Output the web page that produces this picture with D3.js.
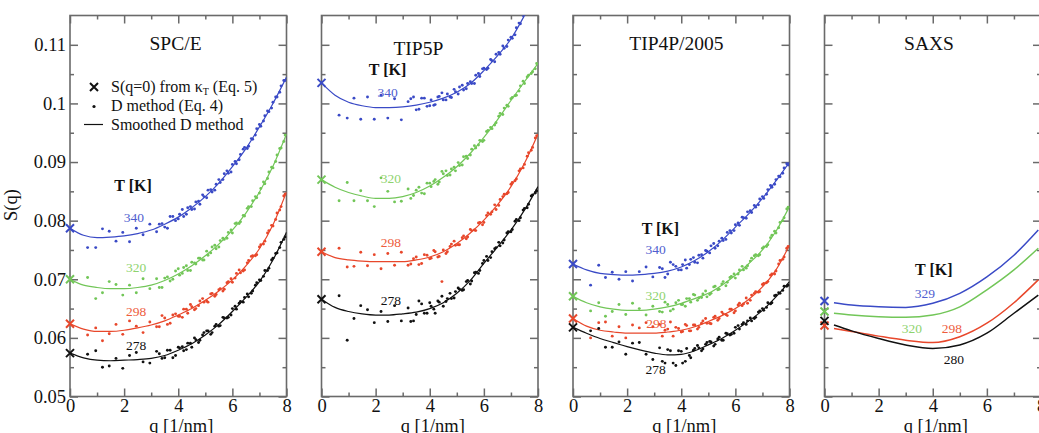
<!DOCTYPE html>
<html>
<head>
<meta charset="utf-8">
<script src="https://cdn.jsdelivr.net/npm/d3@7"></script>
<style>
  body { margin: 0; background: #fff; }
  svg { display: block; }
</style>
</head>
<body>
<svg id="chart"></svg>
<script>
// ---- data (S(q)) ----
const qLine = [0, 0.5, 1, 1.5, 2, 2.5, 3, 3.5, 4, 4.5, 5, 5.5, 6, 6.5, 7, 7.5, 8];
const qDots = [0.65, 0.95, 1.2, 1.45, 1.7, 1.95, 2.2, 2.45, 2.7, 2.95, 3.2, 3.4, 3.6, 3.8, 4.0,
  4.15, 4.3, 4.45, 4.6, 4.75, 4.9, 5.05, 5.2, 5.35, 5.5, 5.65, 5.8, 5.95, 6.1, 6.25, 6.4,
  6.55, 6.7, 6.85, 7.0, 7.15, 7.3, 7.45, 7.6, 7.75, 7.9];
const qDots2 = [3.3, 3.5, 3.7, 3.9, 4.05, 4.2, 4.35, 4.5, 4.65, 4.8, 4.95, 5.1, 5.25, 5.4, 5.55,
  5.7, 5.85, 6.0, 6.15, 6.3, 6.45, 6.6, 6.75, 6.9, 7.05, 7.2, 7.35, 7.5, 7.65, 7.8, 7.95];
const temps = ['340', '320', '298', '278'];
const saxsTemps = ['329', '320', '298', '280'];

// SPC/E
const spceCross = [0.0787, 0.0700, 0.0624, 0.0574];
const spceCurve340 = [0.0787,0.0775,0.0771,0.0772,0.0774,0.0778,0.0784,0.0794,0.0806,0.0822,0.0841,0.0864,0.0892,0.0923,0.0960,0.1000,0.1045];
const spceCurve320 = [0.0700,0.0690,0.0686,0.0684,0.0684,0.0686,0.0690,0.0698,0.0709,0.0723,0.0740,0.0760,0.0784,0.0813,0.0849,0.0893,0.0948];
const spceCurve298 = [0.0624,0.0615,0.0611,0.0611,0.0613,0.0617,0.0622,0.0629,0.0639,0.0650,0.0664,0.0680,0.0699,0.0723,0.0752,0.0793,0.0849];
const spceCurve278 = [0.0574,0.0566,0.0562,0.0561,0.0562,0.0563,0.0565,0.0570,0.0579,0.0590,0.0605,0.0623,0.0645,0.0669,0.0696,0.0733,0.0780];
const spceDots340 = [0.0754,0.0754,0.0786,0.0782,0.0765,0.0780,0.0764,0.0787,0.0776,0.0794,0.0781,0.0795,0.0787,0.0807,0.0803,0.0819,0.0811,0.0824,0.0820,0.0833,0.0844,0.0839,0.0853,0.0852,0.0870,0.0870,0.0885,0.0883,0.0901,0.0904,0.0922,0.0923,0.0940,0.0946,0.0964,0.0970,0.0987,0.0992,0.1011,0.1019,0.1039];
const spceDots320 = [0.0703,0.0667,0.0677,0.0696,0.0691,0.0673,0.0690,0.0677,0.0701,0.0684,0.0701,0.0686,0.0704,0.0700,0.0718,0.0710,0.0723,0.0715,0.0728,0.0736,0.0733,0.0748,0.0745,0.0758,0.0755,0.0770,0.0770,0.0784,0.0795,0.0795,0.0809,0.0821,0.0824,0.0841,0.0847,0.0866,0.0872,0.0891,0.0901,0.0923,0.0935];
const spceDots298 = [0.0605,0.0617,0.0595,0.0607,0.0623,0.0606,0.0629,0.0620,0.0609,0.0627,0.0619,0.0638,0.0623,0.0639,0.0637,0.0635,0.0649,0.0657,0.0648,0.0655,0.0667,0.0663,0.0675,0.0671,0.0682,0.0680,0.0694,0.0701,0.0702,0.0716,0.0714,0.0728,0.0739,0.0740,0.0755,0.0760,0.0779,0.0792,0.0802,0.0818,0.0842];
const spceDots278 = [0.0572,0.0578,0.0550,0.0552,0.0565,0.0548,0.0570,0.0575,0.0559,0.0557,0.0577,0.0565,0.0579,0.0566,0.0584,0.0585,0.0580,0.0591,0.0600,0.0592,0.0605,0.0612,0.0606,0.0620,0.0620,0.0635,0.0634,0.0639,0.0654,0.0659,0.0661,0.0675,0.0676,0.0690,0.0699,0.0705,0.0715,0.0733,0.0744,0.0754,0.0768];
const spceMore340 = [0.0794,0.0789,0.0807,0.0800,0.0811,0.0807,0.0822,0.0819,0.0832,0.0828,0.0841,0.0852,0.0849,0.0862,0.0865,0.0880,0.0881,0.0896,0.0897,0.0913,0.0925,0.0927,0.0939,0.0957,0.0961,0.0979,0.0986,0.1002,0.1011,0.1030,0.1039];
const spceMore320 = [0.0686,0.0702,0.0697,0.0714,0.0707,0.0720,0.0715,0.0729,0.0726,0.0736,0.0733,0.0741,0.0755,0.0752,0.0766,0.0768,0.0780,0.0779,0.0796,0.0798,0.0808,0.0824,0.0834,0.0839,0.0855,0.0863,0.0883,0.0890,0.0912,0.0924,0.0946];
const spceMore298 = [0.0619,0.0634,0.0625,0.0641,0.0637,0.0649,0.0642,0.0653,0.0650,0.0663,0.0661,0.0661,0.0676,0.0674,0.0684,0.0683,0.0696,0.0695,0.0710,0.0711,0.0716,0.0732,0.0740,0.0742,0.0759,0.0765,0.0783,0.0791,0.0813,0.0824,0.0845];
const spceMore278 = [0.0573,0.0566,0.0579,0.0570,0.0583,0.0578,0.0591,0.0584,0.0597,0.0596,0.0609,0.0612,0.0609,0.0623,0.0621,0.0634,0.0635,0.0650,0.0649,0.0662,0.0669,0.0670,0.0680,0.0694,0.0698,0.0715,0.0719,0.0736,0.0745,0.0763,0.0772];

// TIP5P
const tip5pCross = [0.1035, 0.0870, 0.0747, 0.0666];
const tip5pCurve340 = [0.1035,0.1014,0.1002,0.0996,0.0993,0.0993,0.0994,0.0997,0.1002,0.1009,0.1019,0.1034,0.1056,0.1081,0.1110,0.1150,0.1195];
const tip5pCurve320 = [0.0870,0.0857,0.0848,0.0842,0.0838,0.0838,0.0841,0.0848,0.0859,0.0874,0.0892,0.0915,0.0942,0.0972,0.1005,0.1037,0.1068];
const tip5pCurve298 = [0.0747,0.0737,0.0733,0.0731,0.0730,0.0730,0.0730,0.0733,0.0738,0.0747,0.0761,0.0779,0.0801,0.0827,0.0858,0.0898,0.0948];
const tip5pCurve278 = [0.0666,0.0652,0.0645,0.0641,0.0639,0.0639,0.0641,0.0644,0.0650,0.0660,0.0676,0.0698,0.0727,0.0755,0.0784,0.0818,0.0858];
const tip5pDots340 = [0.0980,0.0975,0.1009,0.0973,0.1011,0.0973,0.1014,0.0975,0.1008,0.0972,0.1003,0.1011,0.0990,0.1009,0.0996,0.0997,0.1011,0.1018,0.1006,0.1011,0.1024,0.1016,0.1031,0.1025,0.1037,0.1034,0.1051,0.1059,0.1058,0.1075,0.1071,0.1087,0.1098,0.1097,0.1113,0.1117,0.1137,0.1150,0.1156,0.1169,0.1191];
const tip5pDots320 = [0.0834,0.0865,0.0834,0.0851,0.0834,0.0824,0.0873,0.0850,0.0832,0.0833,0.0854,0.0843,0.0857,0.0846,0.0864,0.0867,0.0862,0.0884,0.0885,0.0878,0.0891,0.0899,0.0895,0.0910,0.0912,0.0928,0.0929,0.0935,0.0952,0.0959,0.0963,0.0978,0.0981,0.0997,0.1008,0.1013,0.1021,0.1038,0.1045,0.1051,0.1059];
const tip5pDots298 = [0.0753,0.0721,0.0722,0.0746,0.0723,0.0742,0.0718,0.0744,0.0724,0.0746,0.0724,0.0735,0.0725,0.0742,0.0735,0.0749,0.0738,0.0696,0.0744,0.0756,0.0765,0.0759,0.0771,0.0769,0.0785,0.0784,0.0796,0.0793,0.0809,0.0811,0.0827,0.0826,0.0841,0.0846,0.0862,0.0868,0.0885,0.0890,0.0910,0.0920,0.0941];
const tip5pDots278 = [0.0672,0.0596,0.0633,0.0655,0.0648,0.0626,0.0645,0.0628,0.0655,0.0629,0.0651,0.0629,0.0663,0.0642,0.0660,0.0649,0.0663,0.0671,0.0662,0.0676,0.0668,0.0685,0.0681,0.0696,0.0692,0.0711,0.0710,0.0727,0.0739,0.0737,0.0752,0.0763,0.0762,0.0779,0.0781,0.0799,0.0800,0.0818,0.0822,0.0842,0.0847];
const tip5pMore340 = [0.1008,0.0989,0.1009,0.0995,0.1006,0.0998,0.1012,0.1006,0.1016,0.1010,0.1020,0.1028,0.1023,0.1034,0.1034,0.1048,0.1046,0.1060,0.1060,0.1073,0.1084,0.1084,0.1094,0.1108,0.1111,0.1129,0.1136,0.1152,0.1161,0.1180,0.1189];
const tip5pMore320 = [0.0838,0.0852,0.0847,0.0864,0.0858,0.0870,0.0866,0.0880,0.0877,0.0888,0.0885,0.0894,0.0909,0.0906,0.0922,0.0924,0.0937,0.0937,0.0954,0.0957,0.0967,0.0983,0.0992,0.0995,0.1010,0.1014,0.1030,0.1034,0.1048,0.1054,0.1068];
const tip5pMore298 = [0.0726,0.0738,0.0727,0.0741,0.0736,0.0747,0.0739,0.0750,0.0747,0.0760,0.0758,0.0759,0.0774,0.0772,0.0783,0.0783,0.0797,0.0797,0.0813,0.0815,0.0819,0.0836,0.0845,0.0848,0.0865,0.0871,0.0888,0.0896,0.0916,0.0925,0.0945];
const tip5pMore278 = [0.0628,0.0640,0.0658,0.0642,0.0654,0.0642,0.0661,0.0654,0.0667,0.0667,0.0679,0.0683,0.0682,0.0698,0.0697,0.0712,0.0715,0.0732,0.0732,0.0747,0.0754,0.0757,0.0767,0.0781,0.0785,0.0802,0.0805,0.0821,0.0828,0.0844,0.0851];

// TIP4P/2005
const tip4pCross = [0.0726, 0.0671, 0.0633, 0.0618];
const tip4pCurve340 = [0.0726,0.0716,0.0710,0.0708,0.0707,0.0708,0.0710,0.0714,0.0721,0.0732,0.0747,0.0766,0.0789,0.0812,0.0838,0.0868,0.0900];
const tip4pCurve320 = [0.0671,0.0660,0.0653,0.0649,0.0647,0.0647,0.0649,0.0653,0.0659,0.0667,0.0676,0.0690,0.0707,0.0727,0.0750,0.0782,0.0824];
const tip4pCurve298 = [0.0633,0.0620,0.0613,0.0610,0.0608,0.0608,0.0608,0.0610,0.0613,0.0619,0.0628,0.0638,0.0650,0.0666,0.0687,0.0716,0.0758];
const tip4pCurve278 = [0.0618,0.0608,0.0599,0.0592,0.0585,0.0579,0.0574,0.0571,0.0572,0.0578,0.0588,0.0599,0.0613,0.0629,0.0647,0.0670,0.0696];
const tip4pDots340 = [0.0690,0.0724,0.0703,0.0712,0.0700,0.0713,0.0697,0.0713,0.0721,0.0704,0.0720,0.0703,0.0729,0.0722,0.0716,0.0733,0.0725,0.0737,0.0728,0.0742,0.0749,0.0745,0.0761,0.0757,0.0770,0.0768,0.0783,0.0783,0.0796,0.0806,0.0804,0.0817,0.0826,0.0827,0.0841,0.0845,0.0860,0.0862,0.0876,0.0881,0.0897];
const tip4pDots320 = [0.0646,0.0660,0.0637,0.0645,0.0657,0.0640,0.0659,0.0650,0.0639,0.0654,0.0645,0.0661,0.0646,0.0660,0.0657,0.0654,0.0667,0.0674,0.0664,0.0669,0.0680,0.0674,0.0687,0.0682,0.0692,0.0689,0.0703,0.0709,0.0709,0.0722,0.0719,0.0731,0.0740,0.0740,0.0753,0.0756,0.0771,0.0782,0.0788,0.0800,0.0820];
const tip4pDots298 = [0.0600,0.0626,0.0627,0.0603,0.0619,0.0600,0.0622,0.0617,0.0626,0.0619,0.0623,0.0613,0.0627,0.0618,0.0610,0.0623,0.0612,0.0622,0.0615,0.0625,0.0633,0.0625,0.0635,0.0630,0.0644,0.0640,0.0649,0.0643,0.0656,0.0655,0.0668,0.0664,0.0676,0.0678,0.0691,0.0694,0.0707,0.0709,0.0726,0.0734,0.0753];
const tip4pDots278 = [0.0612,0.0616,0.0584,0.0584,0.0593,0.0572,0.0591,0.0592,0.0572,0.0563,0.0583,0.0557,0.0578,0.0553,0.0577,0.0560,0.0570,0.0579,0.0587,0.0578,0.0589,0.0594,0.0586,0.0598,0.0596,0.0608,0.0605,0.0608,0.0621,0.0623,0.0623,0.0634,0.0633,0.0644,0.0650,0.0652,0.0658,0.0672,0.0677,0.0681,0.0688];
const tip4pMore340 = [0.0718,0.0709,0.0725,0.0716,0.0725,0.0719,0.0734,0.0729,0.0741,0.0736,0.0748,0.0757,0.0753,0.0765,0.0766,0.0780,0.0779,0.0793,0.0792,0.0805,0.0815,0.0814,0.0823,0.0837,0.0838,0.0853,0.0857,0.0870,0.0875,0.0890,0.0895];
const tip4pMore320 = [0.0644,0.0657,0.0649,0.0664,0.0657,0.0667,0.0661,0.0673,0.0668,0.0675,0.0670,0.0676,0.0688,0.0683,0.0696,0.0695,0.0705,0.0702,0.0716,0.0716,0.0723,0.0736,0.0742,0.0742,0.0755,0.0759,0.0775,0.0779,0.0797,0.0805,0.0823];
const tip4pMore298 = [0.0603,0.0615,0.0603,0.0616,0.0611,0.0621,0.0612,0.0622,0.0618,0.0629,0.0625,0.0624,0.0637,0.0633,0.0641,0.0638,0.0649,0.0646,0.0659,0.0658,0.0659,0.0673,0.0679,0.0679,0.0693,0.0696,0.0709,0.0714,0.0732,0.0738,0.0756];
const tip4pMore278 = [0.0560,0.0580,0.0557,0.0578,0.0557,0.0582,0.0566,0.0582,0.0583,0.0581,0.0592,0.0593,0.0589,0.0601,0.0596,0.0607,0.0606,0.0618,0.0615,0.0626,0.0629,0.0629,0.0635,0.0646,0.0647,0.0660,0.0660,0.0673,0.0676,0.0688,0.0690];

// SAXS (experiment, curves only)
const saxsQ = [0.35, 1, 2, 3, 4, 5, 6, 7, 7.9];
const saxsCross = [0.0663, 0.0645, 0.0621, 0.0629];
const saxsCurve329 = [0.0660,0.0656,0.0653,0.0652,0.0659,0.0676,0.0704,0.0741,0.0784];
const saxsCurve320 = [0.0642,0.0639,0.0636,0.0635,0.0639,0.0653,0.0682,0.0716,0.0753];
const saxsCurve298 = [0.0616,0.0611,0.0603,0.0596,0.0592,0.0602,0.0625,0.0660,0.0699];
const saxsCurve280 = [0.0622,0.0612,0.0599,0.0588,0.0582,0.0588,0.0608,0.0642,0.0673];

// axis ticks
const xTicks = [0, 2, 4, 6, 8];
const xMinor = [1, 3, 5, 7];
const yTicks = [0.05, 0.06, 0.07, 0.08, 0.09, 0.1, 0.11];
const yTickLabels = ['0.05', '0.06', '0.07', '0.08', '0.09', '0.1', '0.11'];
const yMinor = [0.055, 0.065, 0.075, 0.085, 0.095, 0.105];

// ---- layout ----
const width = 1039, height = 433;
const plotTop = 15.5, plotBottom = 396.5, plotW = 216.5;
const firstLeft = 70, panelStep = 251.5;
const serif = "'Liberation Serif'";
const lineColors = ['#3a4ac6', '#72c658', '#e8472b', '#111111'];
const labelColors = ['#4f5ecf', '#8ed36e', '#ee5c3c', '#111111'];
const axisColor = '#6a6a6a';

const panels = [
  { title: 'SPC/E', titleQ: 3.9, qCurve: qLine, curves: [spceCurve340, spceCurve320, spceCurve298, spceCurve278],
    dots: [spceDots340, spceDots320, spceDots298, spceDots278],
    more: [spceMore340, spceMore320, spceMore298, spceMore278], cross: spceCross, temps,
    tk: [2.33, 0.0860], labels: [[2.36, 0.0806], [2.44, 0.0721], [2.44, 0.0646], [2.44, 0.0588]] },
  { title: 'TIP5P', titleQ: 3.58, titleS: 0.1094, qCurve: qLine, curves: [tip5pCurve340, tip5pCurve320, tip5pCurve298, tip5pCurve278],
    dots: [tip5pDots340, tip5pDots320, tip5pDots298, tip5pDots278],
    more: [tip5pMore340, tip5pMore320, tip5pMore298, tip5pMore278], cross: tip5pCross, temps,
    tk: [2.44, 0.1058], labels: [[2.44, 0.1019], [2.56, 0.0872], [2.56, 0.0763], [2.56, 0.0664]] },
  { title: 'TIP4P/2005', titleQ: 3.82, qCurve: qLine, curves: [tip4pCurve340, tip4pCurve320, tip4pCurve298, tip4pCurve278],
    dots: [tip4pDots340, tip4pDots320, tip4pDots298, tip4pDots278],
    more: [tip4pMore340, tip4pMore320, tip4pMore298, tip4pMore278], cross: tip4pCross, temps,
    tk: [3.23, 0.0787], labels: [[3.05, 0.0751], [3.05, 0.0673], [3.08, 0.0625], [3.05, 0.0547]] },
  { title: 'SAXS', titleQ: 3.86, qCurve: saxsQ, curves: [saxsCurve329, saxsCurve320, saxsCurve298, saxsCurve280],
    dots: null, more: null, cross: saxsCross, temps: saxsTemps,
    tk: [4.04, 0.0717], labels: [[3.71, 0.0676], [3.23, 0.0617], [4.71, 0.0617], [4.78, 0.0564]] }
];

const svg = d3.select('#chart')
  .attr('width', width)
  .attr('height', height);

const y = d3.scaleLinear().domain([0.05, 0.115]).range([plotBottom, plotTop]);
const crossPath = 'M-4,-4L4,4M-4,4L4,-4';

const styleAxis = sel => {
  sel.select('.domain').remove();
  sel.selectAll('.tick line').attr('stroke', axisColor).attr('stroke-width', 1.5);
  sel.selectAll('.tick text')
    .attr('fill', '#111')
    .style('font-size', '18.5px');
};

panels.forEach((p, i) => {
  const x0 = firstLeft + i * panelStep;
  const x = d3.scaleLinear().domain([0, 8]).range([x0, x0 + plotW]);
  const g = svg.append('g').attr('class', 'panel');

  svg.append('clipPath').attr('id', 'clip' + i)
    .append('rect')
    .attr('x', x0).attr('y', plotTop)
    .attr('width', plotW).attr('height', plotBottom - plotTop);

  // axes: ticks point inward on all four sides
  g.append('g').attr('transform', `translate(0,${plotBottom})`)
    .call(d3.axisBottom(x).tickValues(xTicks).tickSize(-8).tickPadding(2).tickFormat(d3.format('d')))
    .call(styleAxis);
  g.append('g').attr('transform', `translate(0,${plotBottom})`)
    .call(d3.axisBottom(x).tickValues(xMinor).tickSize(-4).tickFormat(''))
    .call(styleAxis);
  g.append('g').attr('transform', `translate(0,${plotTop})`)
    .call(d3.axisTop(x).tickValues(xTicks).tickSize(-8).tickFormat(''))
    .call(styleAxis);
  g.append('g').attr('transform', `translate(0,${plotTop})`)
    .call(d3.axisTop(x).tickValues(xMinor).tickSize(-4).tickFormat(''))
    .call(styleAxis);
  g.append('g').attr('transform', `translate(${x0},0)`)
    .call(d3.axisLeft(y).tickValues(yTicks).tickSize(-8).tickPadding(4)
      .tickFormat((d, j) => (i === 0 ? yTickLabels[j] : '')))
    .call(styleAxis);
  g.append('g').attr('transform', `translate(${x0},0)`)
    .call(d3.axisLeft(y).tickValues(yMinor).tickSize(-4).tickFormat(''))
    .call(styleAxis);
  g.append('g').attr('transform', `translate(${x0 + plotW},0)`)
    .call(d3.axisRight(y).tickValues(yTicks).tickSize(-8).tickFormat(''))
    .call(styleAxis);
  g.append('g').attr('transform', `translate(${x0 + plotW},0)`)
    .call(d3.axisRight(y).tickValues(yMinor).tickSize(-4).tickFormat(''))
    .call(styleAxis);

  g.append('rect')
    .attr('x', x0).attr('y', plotTop)
    .attr('width', plotW).attr('height', plotBottom - plotTop)
    .attr('fill', 'none').attr('stroke', axisColor).attr('stroke-width', 1.6);

  // data
  const data = g.append('g').attr('clip-path', `url(#clip${i})`);
  const line = d3.line()
    .x(d => x(d[0]))
    .y(d => y(d[1]))
    .curve(d3.curveMonotoneX);

  p.curves.forEach((curve, s) => {
    if (p.dots) {
      const pts = qDots.map((q, k) => [q, p.dots[s][k]])
        .concat(qDots2.map((q, k) => [q, p.more[s][k]]));
      data.append('g')
        .selectAll('circle')
        .data(pts)
        .join('circle')
        .attr('cx', d => x(d[0]))
        .attr('cy', d => y(d[1]))
        .attr('r', 1.45)
        .attr('fill', lineColors[s]);
    }
    data.append('path')
      .datum(p.qCurve.map((q, k) => [q, curve[k]]))
      .attr('d', line)
      .attr('fill', 'none')
      .attr('stroke', lineColors[s])
      .attr('stroke-width', p.dots ? 1.2 : 1.5);
  });

  g.selectAll('.cross')
    .data(p.cross)
    .join('path')
    .attr('class', 'cross')
    .attr('d', crossPath)
    .attr('transform', d => `translate(${x(0)},${y(d)})`)
    .attr('fill', 'none')
    .attr('stroke', (d, s) => lineColors[s])
    .attr('stroke-width', 2);

  // text
  g.append('text')
    .attr('x', x(p.titleQ))
    .attr('y', y(p.titleS || 0.1102))
    .attr('dy', '0.35em')
    .attr('text-anchor', 'middle')
    .style('font-size', '19.5px')
    .attr('fill', '#111')
    .text(p.title);

  g.append('text')
    .attr('x', x(p.tk[0]))
    .attr('y', y(p.tk[1]))
    .attr('dy', '0.35em')
    .attr('text-anchor', 'middle')
    .style('font-size', '16px')
    .style('font-weight', 'bold')
    .attr('fill', '#111')
    .text('T [K]');

  g.selectAll('.templabel')
    .data(p.labels)
    .join('text')
    .attr('class', 'templabel')
    .attr('x', d => x(d[0]))
    .attr('y', d => y(d[1]))
    .attr('dy', '0.35em')
    .attr('text-anchor', 'middle')
    .style('font-size', '13.5px')
    .attr('fill', (d, s) => labelColors[s])
    .text((d, s) => p.temps[s]);

  g.append('text')
    .attr('x', x0 + plotW / 2 + 3)
    .attr('y', 432)
    .attr('text-anchor', 'middle')
    .style('font-size', '18.5px')
    .attr('fill', '#111')
    .text('q [1/nm]');
});

// y axis title
svg.append('text')
  .attr('transform', 'translate(17,205) rotate(-90)')
  .attr('text-anchor', 'middle')
  .style('font-size', '18.5px')
  .attr('fill', '#111')
  .text('S(q)');

// legend inside the first panel
const legend = svg.append('g').attr('class', 'legend');
legend.append('path')
  .attr('d', crossPath)
  .attr('transform', 'translate(94,87)')
  .attr('fill', 'none').attr('stroke', '#111').attr('stroke-width', 2);
legend.append('circle')
  .attr('cx', 94).attr('cy', 106.5).attr('r', 1.6).attr('fill', '#111');
legend.append('line')
  .attr('x1', 84).attr('x2', 103).attr('y1', 124.5).attr('y2', 124.5)
  .attr('stroke', '#111').attr('stroke-width', 1.2);

const legendText = legend.append('g').attr('fill', '#111');
const first = legendText.append('text').attr('x', 111).attr('y', 92).style('font-size', '16px');
first.append('tspan').text('S(q=0) from \u03BA');
first.append('tspan').attr('baseline-shift', '-28%').style('font-size', '10px').text('T');
first.append('tspan').text(' (Eq. 5)');
legendText.append('text').attr('x', 111).attr('y', 111).style('font-size', '16px').text('D method (Eq. 4)');
legendText.append('text').attr('x', 111).attr('y', 129.5).style('font-size', '16px').text('Smoothed D method');

// serif (Times-like) face on every text
svg.selectAll('text, tspan').style('font-family', serif);
svg.selectAll('g').filter(function () { return this.hasAttribute('font-family'); })
  .attr('font-family', null);
</script>
</body>
</html>
